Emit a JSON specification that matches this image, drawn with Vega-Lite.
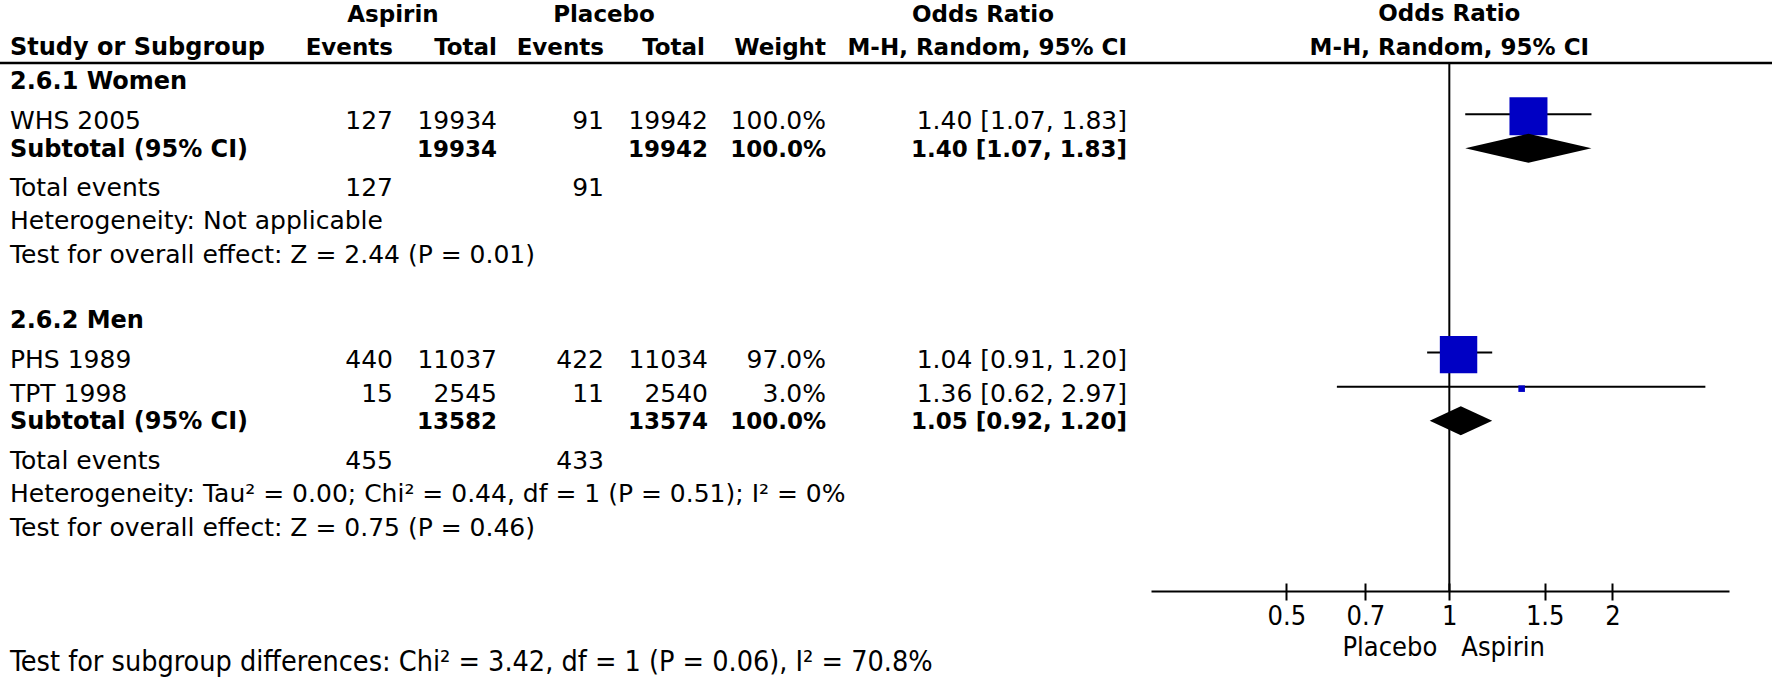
{
  "$schema": "https://vega.github.io/schema/vega-lite/v6.json",
  "width": 1772,
  "height": 591,
  "autosize": "none",
  "padding": {"left": 0, "top": 0, "right": 0, "bottom": 87},
  "background": "white",
  "config": {
    "view": {"stroke": null},
    "text": {"font": "DejaVu Sans", "fontSize": 25, "color": "black", "baseline": "middle"},
    "axisY": {"disable": true}
  },
  "datasets": {
    "headersCenter": [
      {"row": 0, "col": 1, "text": "Aspirin"},
      {"row": 0, "col": 3, "text": "Placebo"},
      {"row": 0, "col": 6, "text": "Odds Ratio"}
    ],
    "headersRight": [
      {"row": 1, "col": 1, "text": "Events"},
      {"row": 1, "col": 2, "text": "Total"},
      {"row": 1, "col": 3, "text": "Events"},
      {"row": 1, "col": 4, "text": "Total"},
      {"row": 1, "col": 5, "text": "Weight"},
      {"row": 1, "col": 7, "text": "M-H, Random, 95% CI"}
    ],
    "headersLeft": [{"row": 1, "col": 0, "text": "Study or Subgroup"}],
    "forestHeaders": [
      {"row": 0, "text": "Odds Ratio"},
      {"row": 1, "text": "M-H, Random, 95% CI"}
    ],
    "groups": [
      {"row": 2, "text": "2.6.1 Women"},
      {"row": 9, "text": "2.6.2 Men"}
    ],
    "studies": [
      {"row": 3, "study": "WHS 2005", "ev1": 127, "tot1": 19934, "ev2": 91, "tot2": 19942, "weight": 1.0, "or": 1.40, "lo": 1.07, "hi": 1.83, "ci": "1.40 [1.07, 1.83]"},
      {"row": 10, "study": "PHS 1989", "ev1": 440, "tot1": 11037, "ev2": 422, "tot2": 11034, "weight": 0.97, "or": 1.04, "lo": 0.91, "hi": 1.20, "ci": "1.04 [0.91, 1.20]"},
      {"row": 11, "study": "TPT 1998", "ev1": 15, "tot1": 2545, "ev2": 11, "tot2": 2540, "weight": 0.03, "or": 1.36, "lo": 0.62, "hi": 2.97, "ci": "1.36 [0.62, 2.97]"}
    ],
    "subtotals": [
      {"row": 4, "label": "Subtotal (95% CI)", "tot1": 19934, "tot2": 19942, "weight": 1.0, "or": 1.40, "lo": 1.07, "hi": 1.83, "ci": "1.40 [1.07, 1.83]"},
      {"row": 12, "label": "Subtotal (95% CI)", "tot1": 13582, "tot2": 13574, "weight": 1.0, "or": 1.05, "lo": 0.92, "hi": 1.20, "ci": "1.05 [0.92, 1.20]"}
    ],
    "totals": [
      {"row": 5, "label": "Total events", "ev1": 127, "ev2": 91},
      {"row": 13, "label": "Total events", "ev1": 455, "ev2": 433}
    ],
    "notes": [
      {"row": 6, "text": "Heterogeneity: Not applicable"},
      {"row": 7, "text": "Test for overall effect: Z = 2.44 (P = 0.01)"},
      {"row": 14, "text": "Heterogeneity: Tau² = 0.00; Chi² = 0.44, df = 1 (P = 0.51); I² = 0%"},
      {"row": 15, "text": "Test for overall effect: Z = 0.75 (P = 0.46)"}
    ],
    "footer": [
      {"row": 19, "text": "Test for subgroup differences: Chi² = 3.42, df = 1 (P = 0.06), I² = 70.8%"}
    ],
    "favours": [
      {"row": 18.5, "side": "left", "text": "Placebo", "or": 1},
      {"row": 18.5, "side": "right", "text": "Aspirin", "or": 1}
    ],
    "reference": [{"or": 1}]
  },
  "resolve": {"scale": {"x": "independent"}},
  "layer": [
    {
      "layer": [
        {
          "data": {"values": [{}]},
          "mark": {"type": "rule", "color": "black", "strokeWidth": 2.5},
          "encoding": {"y": {"datum": 1.5, "type": "quantitative", "scale": {"type": "linear", "domain": [0, 17], "range": [12, 591], "zero": false, "nice": false}, "axis": null}}
        },
        {
          "data": {"name": "headersCenter"},
          "mark": {"type": "text", "fontWeight": "bold", "fontSize": 23, "align": "center", "dy": 3},
          "encoding": {
            "x": {"field": "col", "type": "quantitative", "scale": {"type": "linear", "domain": [0, 1, 2, 3, 4, 5, 6, 7], "range": [10, 393, 497, 604, 705, 826, 983, 1127], "zero": false, "nice": false}, "axis": null},
            "y": {"field": "row", "type": "quantitative", "scale": {"type": "linear", "domain": [0, 17], "range": [12, 591], "zero": false, "nice": false}, "axis": null},
            "text": {"field": "text"}
          }
        },
        {
          "data": {"name": "headersRight"},
          "mark": {"type": "text", "fontWeight": "bold", "fontSize": 23, "align": "right", "dy": 1.5},
          "encoding": {
            "x": {"field": "col", "type": "quantitative", "axis": null},
            "y": {"field": "row", "type": "quantitative", "axis": null},
            "text": {"field": "text"}
          }
        },
        {
          "data": {"name": "headersLeft"},
          "mark": {"type": "text", "fontWeight": "bold", "fontSize": 24, "align": "left", "dy": 1.5},
          "encoding": {
            "x": {"field": "col", "type": "quantitative", "axis": null},
            "y": {"field": "row", "type": "quantitative", "axis": null},
            "text": {"field": "text"}
          }
        },
        {
          "data": {"name": "groups"},
          "mark": {"type": "text", "fontWeight": "bold", "fontSize": 24, "align": "left", "dy": 2},
          "encoding": {
            "x": {"datum": 0, "type": "quantitative", "axis": null},
            "y": {"field": "row", "type": "quantitative", "axis": null},
            "text": {"field": "text"}
          }
        },
        {
          "data": {"name": "studies"},
          "mark": {"type": "text", "align": "left", "dy": 7},
          "encoding": {
            "x": {"datum": 0, "type": "quantitative", "axis": null},
            "y": {"field": "row", "type": "quantitative", "axis": null},
            "text": {"field": "study"}
          }
        },
        {
          "data": {"name": "studies"},
          "mark": {"type": "text", "align": "right", "dy": 7},
          "encoding": {
            "x": {"datum": 1, "type": "quantitative", "axis": null},
            "y": {"field": "row", "type": "quantitative", "axis": null},
            "text": {"field": "ev1", "type": "quantitative", "format": "d"}
          }
        },
        {
          "data": {"name": "studies"},
          "mark": {"type": "text", "align": "right", "dy": 7},
          "encoding": {
            "x": {"datum": 2, "type": "quantitative", "axis": null},
            "y": {"field": "row", "type": "quantitative", "axis": null},
            "text": {"field": "tot1", "type": "quantitative", "format": "d"}
          }
        },
        {
          "data": {"name": "studies"},
          "mark": {"type": "text", "align": "right", "dy": 7},
          "encoding": {
            "x": {"datum": 3, "type": "quantitative", "axis": null},
            "y": {"field": "row", "type": "quantitative", "axis": null},
            "text": {"field": "ev2", "type": "quantitative", "format": "d"}
          }
        },
        {
          "data": {"name": "studies"},
          "mark": {"type": "text", "align": "right", "dy": 7, "dx": 3},
          "encoding": {
            "x": {"datum": 4, "type": "quantitative", "axis": null},
            "y": {"field": "row", "type": "quantitative", "axis": null},
            "text": {"field": "tot2", "type": "quantitative", "format": "d"}
          }
        },
        {
          "data": {"name": "studies"},
          "mark": {"type": "text", "align": "right", "dy": 7},
          "encoding": {
            "x": {"datum": 5, "type": "quantitative", "axis": null},
            "y": {"field": "row", "type": "quantitative", "axis": null},
            "text": {"field": "weight", "type": "quantitative", "format": ".1%"}
          }
        },
        {
          "data": {"name": "studies"},
          "mark": {"type": "text", "align": "right", "dy": 7},
          "encoding": {
            "x": {"datum": 7, "type": "quantitative", "axis": null},
            "y": {"field": "row", "type": "quantitative", "axis": null},
            "text": {"field": "ci"}
          }
        },
        {
          "data": {"name": "subtotals"},
          "mark": {"type": "text", "fontWeight": "bold", "fontSize": 24, "align": "left", "dy": 1.5},
          "encoding": {
            "x": {"datum": 0, "type": "quantitative", "axis": null},
            "y": {"field": "row", "type": "quantitative", "axis": null},
            "text": {"field": "label"}
          }
        },
        {
          "data": {"name": "subtotals"},
          "mark": {"type": "text", "fontWeight": "bold", "fontSize": 23, "align": "right", "dy": 1.5},
          "encoding": {
            "x": {"datum": 2, "type": "quantitative", "axis": null},
            "y": {"field": "row", "type": "quantitative", "axis": null},
            "text": {"field": "tot1", "type": "quantitative", "format": "d"}
          }
        },
        {
          "data": {"name": "subtotals"},
          "mark": {"type": "text", "fontWeight": "bold", "fontSize": 23, "align": "right", "dy": 1.5, "dx": 3},
          "encoding": {
            "x": {"datum": 4, "type": "quantitative", "axis": null},
            "y": {"field": "row", "type": "quantitative", "axis": null},
            "text": {"field": "tot2", "type": "quantitative", "format": "d"}
          }
        },
        {
          "data": {"name": "subtotals"},
          "mark": {"type": "text", "fontWeight": "bold", "fontSize": 23, "align": "right", "dy": 1.5},
          "encoding": {
            "x": {"datum": 5, "type": "quantitative", "axis": null},
            "y": {"field": "row", "type": "quantitative", "axis": null},
            "text": {"field": "weight", "type": "quantitative", "format": ".1%"}
          }
        },
        {
          "data": {"name": "subtotals"},
          "mark": {"type": "text", "fontWeight": "bold", "fontSize": 23, "align": "right", "dy": 1.5},
          "encoding": {
            "x": {"datum": 7, "type": "quantitative", "axis": null},
            "y": {"field": "row", "type": "quantitative", "axis": null},
            "text": {"field": "ci"}
          }
        },
        {
          "data": {"name": "totals"},
          "mark": {"type": "text", "align": "left", "dy": 6},
          "encoding": {
            "x": {"datum": 0, "type": "quantitative", "axis": null},
            "y": {"field": "row", "type": "quantitative", "axis": null},
            "text": {"field": "label"}
          }
        },
        {
          "data": {"name": "totals"},
          "mark": {"type": "text", "align": "right", "dy": 6},
          "encoding": {
            "x": {"datum": 1, "type": "quantitative", "axis": null},
            "y": {"field": "row", "type": "quantitative", "axis": null},
            "text": {"field": "ev1", "type": "quantitative", "format": "d"}
          }
        },
        {
          "data": {"name": "totals"},
          "mark": {"type": "text", "align": "right", "dy": 6},
          "encoding": {
            "x": {"datum": 3, "type": "quantitative", "axis": null},
            "y": {"field": "row", "type": "quantitative", "axis": null},
            "text": {"field": "ev2", "type": "quantitative", "format": "d"}
          }
        },
        {
          "data": {"name": "notes"},
          "mark": {"type": "text", "align": "left", "dy": 5},
          "encoding": {
            "x": {"datum": 0, "type": "quantitative", "axis": null},
            "y": {"field": "row", "type": "quantitative", "axis": null},
            "text": {"field": "text"}
          }
        },
        {
          "data": {"name": "footer"},
          "mark": {"type": "text", "align": "left", "dy": 2.5, "font": "DejaVu Sans Condensed", "fontSize": 28.5},
          "encoding": {
            "x": {"datum": 0, "type": "quantitative", "axis": null},
            "y": {"field": "row", "type": "quantitative", "axis": null},
            "text": {"field": "text"}
          }
        }
      ]
    },
    {
      "resolve": {"axis": {"x": "independent"}},
      "layer": [
        {
          "data": {"name": "reference"},
          "mark": {"type": "rule", "color": "black", "strokeWidth": 2},
          "encoding": {
            "x": {"field": "or", "type": "quantitative", "scale": {"type": "log", "domain": [0.2813, 3.284], "range": [1151, 1729], "nice": false, "zero": false},
              "axis": {"orient": "bottom", "offset": -8, "values": [0.5, 0.7, 1, 1.5, 2], "title": null, "grid": false, "domain": false, "labels": false, "ticks": true, "tickSize": 8, "tickWidth": 2, "tickColor": "black"}},
            "y": {"datum": 1.5, "type": "quantitative", "axis": null},
            "y2": {"datum": 17}
          }
        },
        {
          "layer": [
            {
              "data": {"name": "studies"},
              "mark": {"type": "rule", "color": "black", "strokeWidth": 2},
              "encoding": {
                "x": {"field": "lo", "type": "quantitative"},
                "x2": {"field": "hi"},
                "y": {"field": "row", "type": "quantitative", "axis": null}
              }
            },
            {
              "data": {"name": "studies"},
              "mark": {"type": "square", "filled": true, "color": "#0000c4", "opacity": 1, "yOffset": 2},
              "encoding": {
                "x": {"field": "or", "type": "quantitative", "scale": {"type": "log", "domain": [0.2813, 3.284], "range": [1151, 1729], "nice": false, "zero": false},
                  "axis": {"orient": "bottom", "values": [0.5, 0.7, 1, 1.5, 2], "format": "~g", "title": null, "grid": false, "domain": true, "domainColor": "black", "domainWidth": 2, "ticks": true, "tickSize": 9, "tickWidth": 2, "tickColor": "black", "labelFont": "DejaVu Sans Condensed", "labelFontSize": 27, "labelColor": "black", "labelPadding": 3, "labelFlush": false, "labelOverlap": false}},
                "y": {"field": "row", "type": "quantitative", "axis": null},
                "size": {"field": "weight", "type": "quantitative", "scale": {"domain": [0, 1], "range": [0, 1444], "zero": true}, "legend": null}
              }
            },
            {
              "data": {"name": "subtotals"},
              "transform": [{"fold": ["lo", "or", "hi"], "as": ["vk", "vx"]}],
              "mark": {"type": "area", "color": "black", "opacity": 1, "orient": "vertical",
                "yOffset": {"expr": "datum.vk === 'or' ? -14.5 : 0"},
                "y2Offset": {"expr": "datum.vk === 'or' ? 14.5 : 0"}},
              "encoding": {
                "x": {"field": "vx", "type": "quantitative"},
                "y": {"field": "row", "type": "quantitative", "axis": null, "stack": null},
                "y2": {"field": "row"},
                "detail": {"field": "row", "type": "nominal"}
              }
            },
            {
              "data": {"name": "forestHeaders"},
              "mark": {"type": "text", "fontWeight": "bold", "fontSize": 23, "align": "center", "dy": 1.5},
              "encoding": {
                "x": {"datum": 1, "type": "quantitative"},
                "y": {"field": "row", "type": "quantitative", "axis": null},
                "text": {"field": "text"}
              }
            },
            {
              "data": {"name": "favours"},
              "transform": [{"filter": "datum.side === 'left'"}],
              "mark": {"type": "text", "align": "right", "dx": -12, "dy": 6, "font": "DejaVu Sans Condensed", "fontSize": 27},
              "encoding": {
                "x": {"field": "or", "type": "quantitative"},
                "y": {"field": "row", "type": "quantitative", "axis": null},
                "text": {"field": "text"}
              }
            },
            {
              "data": {"name": "favours"},
              "transform": [{"filter": "datum.side === 'right'"}],
              "mark": {"type": "text", "align": "left", "dx": 12, "dy": 6, "font": "DejaVu Sans Condensed", "fontSize": 27},
              "encoding": {
                "x": {"field": "or", "type": "quantitative"},
                "y": {"field": "row", "type": "quantitative", "axis": null},
                "text": {"field": "text"}
              }
            }
          ]
        }
      ]
    }
  ]
}
